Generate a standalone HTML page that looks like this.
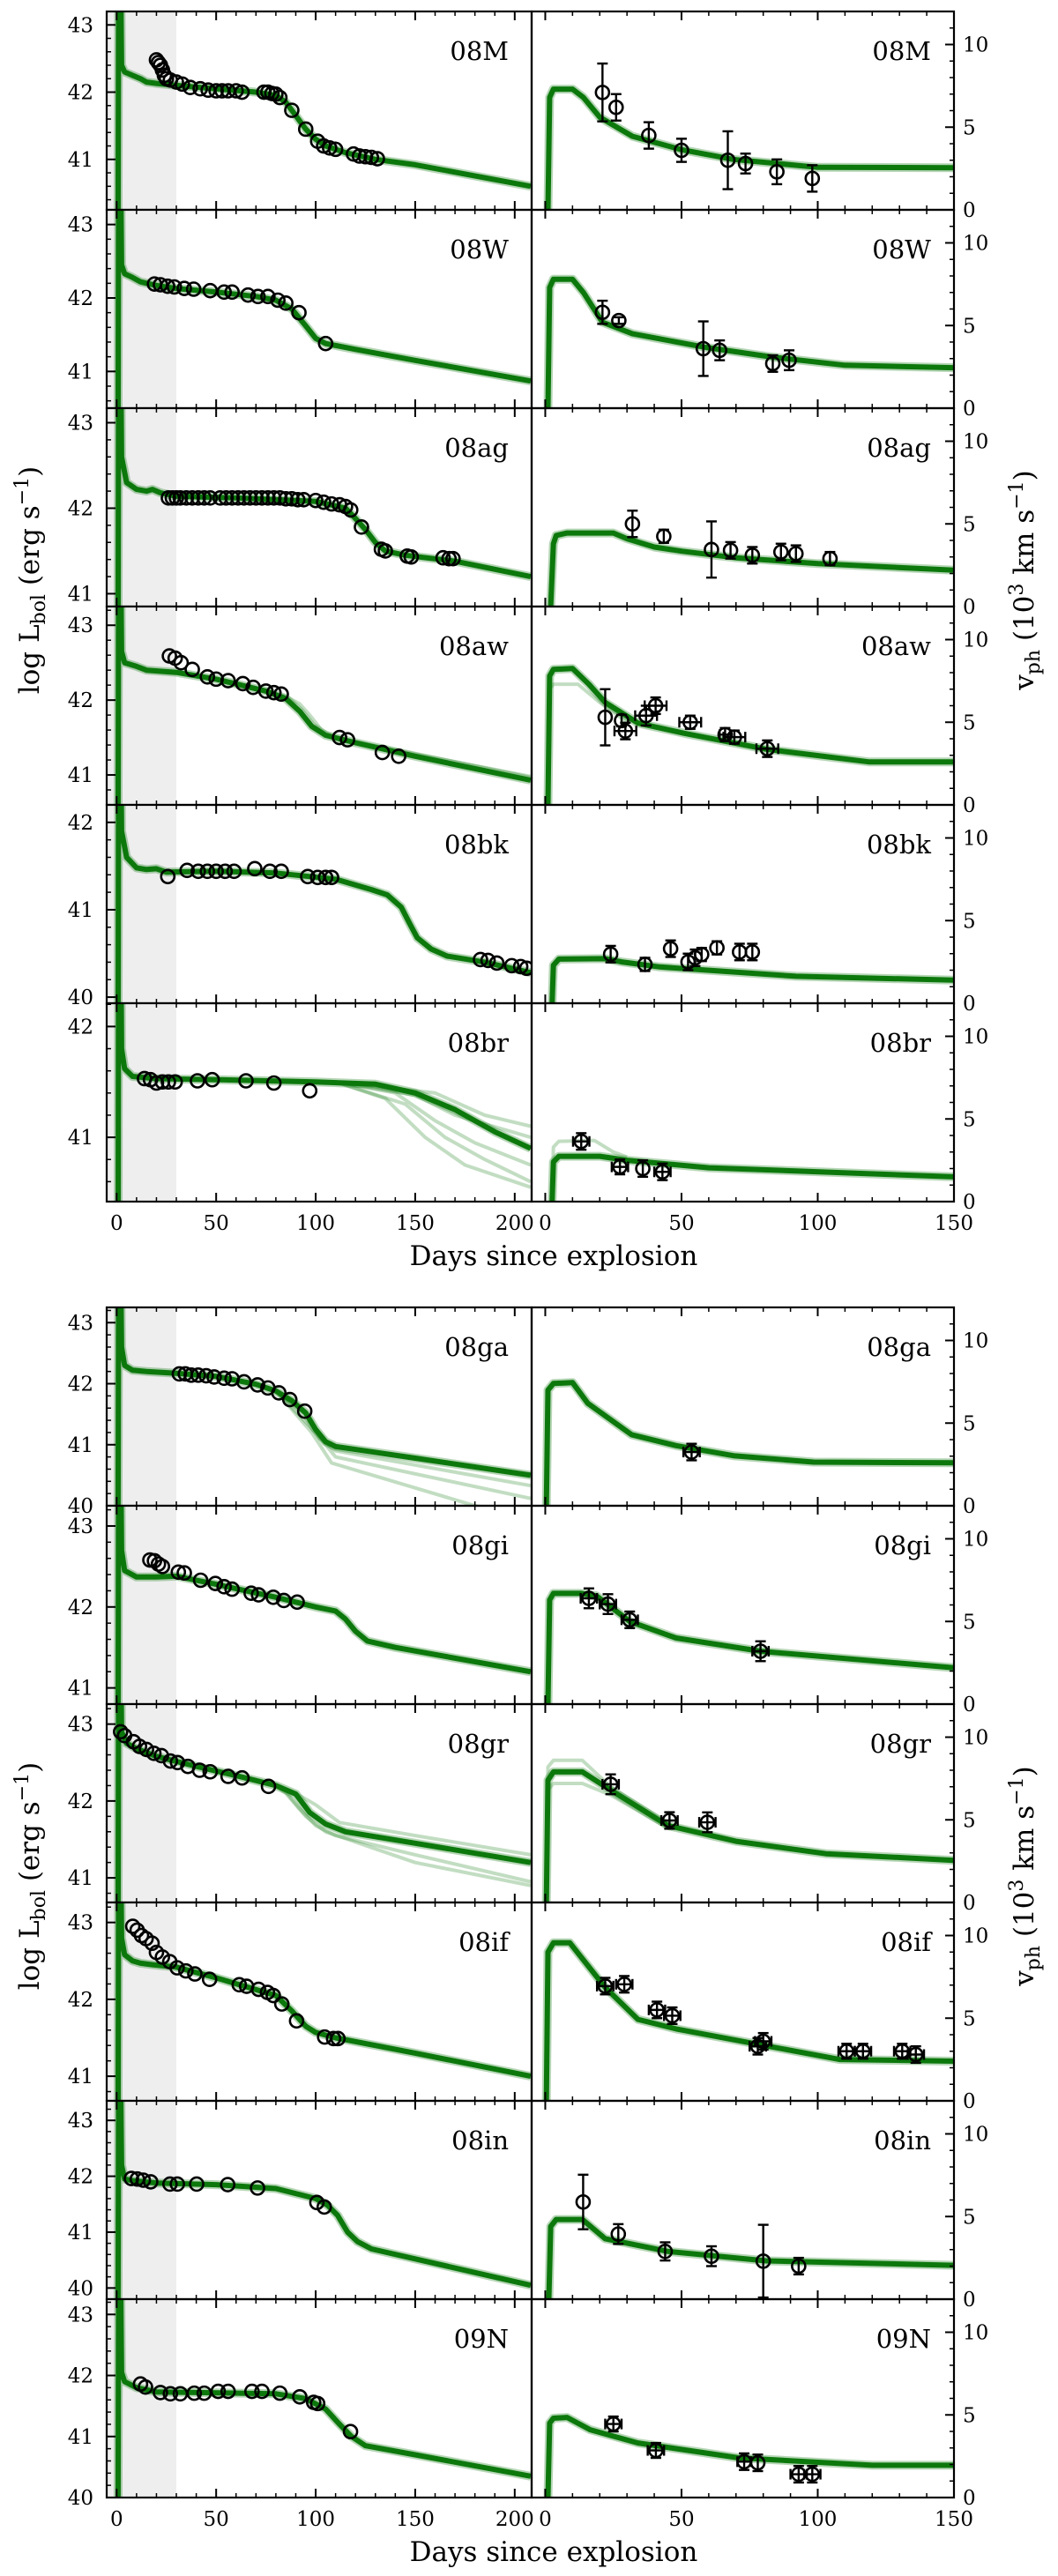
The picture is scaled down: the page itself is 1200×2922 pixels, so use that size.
<!DOCTYPE html>
<html><head><meta charset="utf-8"><title>SN II light curves and velocities</title>
<style>
html,body{margin:0;padding:0;background:#fff;}
svg{display:block;font-family:"DejaVu Serif","Liberation Serif",serif;}
</style></head>
<body>
<svg id="chart" width="1200" height="2922" viewBox="0 0 1200 2922" xmlns="http://www.w3.org/2000/svg">
<rect x="0" y="0" width="1200" height="2922" fill="#fff"/>
</svg>
<script>
// ---------- data ----------
const snNames = ['08M','08W','08ag','08aw','08bk','08br','08ga','08gi','08gr','08if','08in','09N'];
const lumYmin = [40.25,40.5,40.85,40.6,39.93,40.42,40.0,40.8,40.68,40.68,39.8,40.0];
const lumYmax = [43.2,43.2,43.17,43.25,42.2,42.21,43.25,43.25,43.26,43.26,43.35,43.25];
const xTicksLeft = [0,50,100,150,200];
const xTicksRight = [0,50,100,150];
const vTicks = [0,5,10];

// luminosity models [day, logL]
const L08M = [[2.5,42.4],[4,42.3],[8,42.25],[12,42.2],[15,42.15],[20,42.13],[30,42.1],[50,42.05],[70,42.0],[80,41.95],[85,41.85],[90,41.65],[95,41.45],[100,41.3],[105,41.2],[115,41.1],[130,41.0],[150,40.92],[208,40.6]];
const L08W = [[2.5,42.45],[4,42.33],[8,42.28],[12,42.22],[15,42.2],[20,42.17],[30,42.13],[50,42.08],[70,42.02],[80,41.97],[88,41.85],[95,41.62],[100,41.45],[105,41.38],[120,41.3],[150,41.15],[208,40.87]];
const L08ag = [[2.5,42.6],[5,42.3],[10,42.22],[15,42.2],[18,42.22],[22,42.18],[30,42.14],[60,42.12],[100,42.08],[115,42.0],[120,41.88],[125,41.75],[130,41.6],[135,41.5],[145,41.45],[170,41.38],[208,41.2]];
const L08aw = [[2.5,42.65],[4,42.5],[10,42.45],[15,42.4],[30,42.37],[50,42.28],[75,42.12],[85,42.02],[92,41.85],[98,41.65],[105,41.53],[120,41.43],[150,41.25],[208,40.93]];
const L08bk = [[2.5,41.9],[5,41.6],[10,41.48],[15,41.46],[20,41.47],[25,41.43],[50,41.44],[80,41.42],[110,41.35],[128,41.23],[136,41.17],[143,41.03],[147,40.85],[151,40.68],[158,40.55],[166,40.47],[185,40.4],[208,40.28]];
const L08br = [[2.5,41.8],[4,41.62],[8,41.55],[20,41.53],[50,41.52],[100,41.5],[130,41.48],[150,41.4],[170,41.25],[190,41.05],[208,40.9]];
const L08ga = [[2.5,42.6],[4,42.3],[8,42.22],[15,42.2],[30,42.17],[50,42.12],[70,41.99],[80,41.88],[88,41.72],[95,41.52],[100,41.25],[105,41.05],[110,40.97],[150,40.78],[208,40.5]];
const L08gi = [[2.5,42.7],[4,42.45],[10,42.37],[20,42.37],[30,42.38],[50,42.28],[80,42.12],[100,42.0],[110,41.95],[115,41.85],[120,41.7],[126,41.58],[140,41.5],[208,41.2]];
const L08gr = [[2.5,42.9],[5,42.75],[10,42.68],[20,42.58],[40,42.45],[60,42.33],[80,42.2],[90,42.09],[97,41.85],[105,41.7],[115,41.6],[150,41.45],[208,41.2]];
const L08if = [[2.5,42.8],[4,42.58],[8,42.5],[12,42.47],[18,42.45],[30,42.42],[50,42.28],[80,42.05],[88,41.85],[95,41.65],[100,41.57],[110,41.5],[150,41.3],[208,41.0]];
const L08in = [[2.5,42.2],[4,41.95],[8,41.92],[20,41.88],[50,41.85],[80,41.78],[100,41.6],[106,41.48],[111,41.3],[116,41.0],[121,40.83],[128,40.7],[208,40.05]];
const L09N = [[2.5,42.05],[4,41.9],[10,41.8],[20,41.73],[40,41.72],[80,41.7],[95,41.62],[105,41.45],[112,41.2],[118,41.0],[125,40.85],[150,40.7],[208,40.35]];

// luminosity model spread (extra posterior draws)
const F08aw = [[[75,42.12],[85,42.05],[92,41.95],[97,41.8],[103,41.6],[110,41.5],[150,41.28],[208,40.98]]];
const F08br = [
 [[110,41.5],[140,41.4],[160,41.15],[180,40.95],[208,40.75]],
 [[110,41.5],[145,41.3],[165,41.0],[185,40.8],[208,40.6]],
 [[110,41.5],[150,41.38],[170,41.2],[208,41.0]],
 [[110,41.5],[135,41.35],[155,41.0],[175,40.75],[208,40.55]],
 [[110,41.5],[160,41.4],[185,41.2],[208,41.1]]];
const F08ga = [
 [[80,41.88],[95,41.5],[102,41.1],[110,40.9],[208,40.33]],
 [[80,41.88],[100,41.2],[110,40.8],[208,40.12]],
 [[80,41.88],[98,41.2],[108,40.7],[180,40.0],[208,39.85]]];
const F08gr = [
 [[80,42.2],[85,42.12],[92,41.9],[100,41.68],[110,41.55],[150,41.3],[208,40.95]],
 [[80,42.2],[90,42.1],[100,41.95],[112,41.72],[150,41.55],[208,41.3]],
 [[80,42.2],[85,42.1],[95,41.8],[105,41.6],[150,41.2],[208,40.9]]];

// luminosity observations [day, logL]
const O08M = [[20,42.48],[21,42.44],[22,42.4],[23,42.33],[24,42.25],[25,42.2],[27,42.18],[30,42.15],[33,42.12],[37,42.07],[42,42.05],[46,42.03],[50,42.02],[53,42.02],[56,42.02],[60,42.02],[63,42.0],[74,42.0],[76,42.0],[78,41.98],[80,41.97],[82,41.92],[88,41.73],[95,41.45],[101,41.27],[104,41.2],[107,41.17],[110,41.15],[119,41.08],[122,41.05],[125,41.04],[128,41.03],[131,41.01]];
const O08W = [[19,42.19],[22,42.18],[25.6,42.16],[29,42.15],[34,42.13],[38.7,42.12],[47,42.1],[54,42.08],[58,42.08],[66,42.04],[71,42.02],[76,42.02],[81,41.97],[85,41.93],[91.6,41.8],[105,41.38]];
const O08ag = [[26,42.12],[28,42.12],[30,42.12],[32,42.12],[35,42.12],[38,42.12],[41,42.12],[44,42.12],[47,42.12],[52,42.12],[55,42.12],[58,42.12],[61,42.12],[64,42.12],[67,42.12],[70,42.12],[73,42.12],[76,42.12],[79,42.12],[82,42.12],[85,42.11],[88,42.11],[91,42.1],[94,42.1],[100,42.09],[104,42.07],[108,42.05],[112,42.04],[115,42.02],[117.6,41.98],[123,41.78],[133,41.52],[135,41.5],[146,41.44],[148,41.43],[164,41.42],[167,41.41],[169,41.41]];
const O08aw = [[26.5,42.59],[29.4,42.56],[32.4,42.5],[38,42.41],[45.6,42.31],[50,42.28],[56,42.26],[63.4,42.22],[68.6,42.17],[75,42.12],[79,42.1],[82.7,42.08],[112,41.5],[116,41.47],[133.5,41.3],[141.7,41.25]];
const O08bk = [[25.7,41.38],[35.4,41.45],[41,41.44],[45.6,41.44],[50,41.44],[54.5,41.44],[59,41.44],[69.4,41.47],[77,41.44],[82.7,41.44],[96,41.38],[101,41.37],[105,41.37],[108,41.37],[182.8,40.43],[186.6,40.42],[191,40.39],[198.5,40.36],[203,40.35],[206,40.33]];
const O08br = [[14,41.53],[17,41.52],[20,41.49],[23,41.5],[26,41.5],[29.4,41.5],[40.6,41.51],[48,41.52],[65,41.51],[79,41.49],[97,41.42]];
const O08ga = [[31.5,42.16],[34.5,42.16],[37.5,42.14],[41,42.14],[45,42.13],[49,42.11],[54,42.09],[58,42.08],[64,42.03],[70.8,41.98],[76,41.93],[81.5,41.85],[87,41.74],[94.5,41.55]];
const O08gi = [[16.7,42.58],[19,42.57],[21,42.53],[23,42.5],[31,42.43],[34,42.42],[42.2,42.33],[49.6,42.29],[54,42.25],[58,42.22],[67.6,42.17],[71.3,42.15],[78.7,42.12],[84,42.08],[90.7,42.06]];
const O08gr = [[2,42.9],[4,42.85],[8.5,42.77],[11.5,42.71],[15,42.67],[18.7,42.62],[22.5,42.59],[27,42.52],[30.6,42.5],[35.8,42.45],[41.7,42.4],[47,42.38],[56,42.32],[63,42.3],[76.3,42.19]];
const O08if = [[8.1,42.95],[10.3,42.9],[12.5,42.83],[14.8,42.79],[17.8,42.73],[20,42.61],[23,42.55],[26.7,42.49],[30.4,42.41],[34.8,42.37],[39.3,42.33],[46.7,42.26],[61.6,42.19],[65.3,42.17],[71.3,42.13],[75.8,42.09],[78.7,42.05],[83,41.94],[90.4,41.72],[104.5,41.51],[109,41.49],[111.2,41.49]];
const O08in = [[7.4,41.96],[10.4,41.95],[13.4,41.93],[17.1,41.9],[26.8,41.86],[30.5,41.86],[40.2,41.86],[55.8,41.85],[70.8,41.79],[100.6,41.53],[104.3,41.45]];
const O09N = [[12,41.86],[14.5,41.81],[22,41.72],[27,41.7],[32,41.7],[39,41.71],[44,41.71],[51,41.74],[56,41.74],[68,41.74],[73,41.74],[82,41.71],[92,41.65],[99,41.56],[101,41.54],[117.5,41.08]];

// velocity models [day, v]
const V08M = [[1,0],[1.6,6.8],[3,7.3],[10,7.3],[14,6.8],[20,5.6],[32,4.45],[50,3.64],[69,3.05],[100,2.57],[150,2.55]];
const V08W = [[1,0],[1.6,7.3],[3,7.8],[10,7.8],[14,7.0],[21,5.2],[32,4.5],[58,3.7],[83,3.1],[110,2.6],[150,2.45]];
const V08ag = [[2,0],[3,3.8],[4,4.3],[8,4.45],[25,4.45],[30,4.1],[40,3.6],[50,3.35],[70,2.95],[100,2.6],[150,2.2]];
const V08aw = [[1,0],[1.6,7.8],[3,8.2],[10,8.25],[16,7.3],[22,6.2],[34,4.95],[51,4.33],[81,3.37],[119,2.6],[150,2.6]];
const V08bk = [[2.5,0],[3,2.3],[5,2.67],[22,2.7],[28,2.5],[42,2.2],[92,1.63],[150,1.4]];
const V08br = [[2.5,0],[3,2.4],[5,2.74],[20,2.74],[30,2.5],[60,2.05],[150,1.5]];
const V08ga = [[0.4,0],[1,7.0],[3,7.4],[10,7.45],[15.6,6.2],[31.7,4.3],[48,3.64],[69.5,3.02],[98.5,2.64],[150,2.6]];
const V08gi = [[1,0],[1.6,6.3],[3,6.7],[13,6.7],[18.8,6.55],[31,5.0],[48,4.0],[79,3.2],[150,2.2]];
const V08gr = [[0.4,0],[1,7.4],[3,7.9],[13.6,7.9],[24,6.8],[45,4.65],[70,3.7],[103,2.95],[150,2.55]];
const V08if = [[0.4,0],[1,9.0],[3,9.56],[9,9.56],[22,6.86],[34,4.93],[48,4.35],[79,3.39],[108,2.5],[150,2.4]];
const V08in = [[1.3,0],[2,4.4],[4,4.82],[13.6,4.82],[22,3.66],[45,2.89],[81,2.32],[150,2.05]];
const V09N = [[1,0],[1.6,4.5],[3,4.8],[8,4.85],[16.5,4.1],[34,3.3],[71,2.4],[120,1.95],[150,1.95]];
const VF08aw = [[[1,0],[1.6,7.0],[3,7.3],[12,7.3],[20,6.2],[30,5.0]]];
const VF08br = [[[2.5,0],[3,3.3],[5,3.65],[18,3.7],[25,3.0],[30,2.7]]];
const VF08gr = [[[0.4,0],[1,6.8],[3,7.2],[13.6,7.2],[24,6.5],[45,4.5]],[[0.4,0],[1,8.2],[3,8.6],[13.6,8.6],[24,7.0],[45,4.8]]];

// velocity observations [day, v, verr, dayerr]
const VO08M = [[21,7.1,1.75,0],[26,6.2,0.8,0],[38,4.5,0.8,0],[50,3.6,0.7,0],[67,3.0,1.75,0],[73.5,2.8,0.6,0],[85,2.3,0.75,0],[98,1.9,0.8,0]];
const VO08W = [[21,5.8,0.7,0],[27,5.3,0.2,0],[58,3.6,1.65,0],[64,3.5,0.6,0],[83.5,2.7,0.5,0],[89.5,2.9,0.6,0]];
const VO08ag = [[32,5.0,0.8,0],[43.5,4.25,0.4,0],[61,3.45,1.7,0],[68,3.4,0.5,0],[76,3.1,0.5,0],[86.5,3.3,0.5,0],[92,3.2,0.5,0],[104.5,2.9,0.4,0]];
const VO08aw = [[22,5.3,1.7,0],[28,5.1,0.35,0],[29.4,4.47,0.5,4],[37,5.4,0.6,4],[40.5,6.0,0.5,4],[53.2,5.0,0.4,4],[66,4.25,0.4,2],[69.4,4.1,0.4,4],[81.5,3.4,0.5,4]];
const VO08bk = [[24,2.97,0.5,0],[36.6,2.35,0.4,0],[46,3.3,0.5,0],[52.4,2.5,0.5,0],[55,2.75,0.5,0],[57.4,2.95,0.4,0],[63,3.35,0.4,0],[71.3,3.1,0.5,0],[76,3.1,0.5,0]];
const VO08br = [[13.2,3.64,0.5,3],[27.4,2.1,0.45,3],[35.8,2.0,0.5,0],[43,1.8,0.5,3]];
const VO08ga = [[53.7,3.25,0.5,3]];
const VO08gi = [[16,6.4,0.6,3],[23,6.05,0.6,3],[31,5.1,0.5,3],[79,3.2,0.6,3]];
const VO08gr = [[24,7.15,0.6,3],[45.6,4.96,0.5,3],[59.5,4.85,0.6,3]];
const VO08if = [[22,6.94,0.5,3],[29,7.05,0.5,3],[41,5.5,0.5,3],[46.6,5.15,0.5,3],[78,3.3,0.5,3],[80,3.6,0.5,3],[110.6,3.0,0.45,3],[116.6,3.0,0.45,3],[131,3.0,0.45,3],[136,2.8,0.5,3]];
const VO08in = [[13.9,5.88,1.65,0],[26.8,3.94,0.6,0],[44,2.89,0.55,0],[61,2.6,0.6,0],[80,2.3,2.2,0],[93,2.0,0.5,0]];
const VO09N = [[25,4.45,0.45,3],[40.6,2.85,0.45,3],[73,2.17,0.5,2.5],[78,2.1,0.5,0],[93,1.41,0.5,3],[98,1.41,0.5,3]];

const lumModels = [L08M,L08W,L08ag,L08aw,L08bk,L08br,L08ga,L08gi,L08gr,L08if,L08in,L09N];
const lumFans = [[],[],[],F08aw,[],F08br,F08ga,[],F08gr,[],[],[]];
const lumObs = [O08M,O08W,O08ag,O08aw,O08bk,O08br,O08ga,O08gi,O08gr,O08if,O08in,O09N];
const velModels = [V08M,V08W,V08ag,V08aw,V08bk,V08br,V08ga,V08gi,V08gr,V08if,V08in,V09N];
const velFans = [[],[],[],VF08aw,[],VF08br,[],[],VF08gr,[],[],[]];
const velObs = [VO08M,VO08W,VO08ag,VO08aw,VO08bk,VO08br,VO08ga,VO08gi,VO08gr,VO08if,VO08in,VO09N];

// ---------- layout ----------
const svg = document.getElementById('chart');
const NS = 'http://www.w3.org/2000/svg';
function mk(tag, attrs, parent){const e=document.createElementNS(NS,tag);for(const k in attrs)e.setAttribute(k,attrs[k]);(parent||svg).appendChild(e);return e;}
const blockTops = [13,1483];
const PH = 225, LX0 = 121, LX1 = 603, RX0 = 603, RX1 = 1082;
const dayL0 = -5, dayL1 = 208.5, dayR0 = -5, dayR1 = 150;
const V0 = 0, V1 = 12;
const GREEN = '#0c780c';
function xl(t){return LX0+(t-dayL0)/(dayL1-dayL0)*(LX1-LX0);}
function xr(t){return RX0+(t-dayR0)/(dayR1-dayR0)*(RX1-RX0);}
const defs = mk('defs',{});

function drawCurve(g, pts, fx, fy, fan){
  const p = pts.map(q=>fx(q[0]).toFixed(1)+','+fy(q[1]).toFixed(1)).join(' ');
  if(fan){
    const f = mk('polyline',{points:p,fill:'none',stroke:GREEN,'stroke-width':4,'stroke-opacity':0.25,'stroke-linejoin':'round'},g);
    
    
    return;
  }
  const h = mk('polyline',{points:p,fill:'none',stroke:GREEN,'stroke-width':10,'stroke-opacity':0.3,'stroke-linejoin':'round'},g);
  
  
  const m = mk('polyline',{points:p,fill:'none',stroke:GREEN,'stroke-width':6,'stroke-opacity':1,'stroke-linejoin':'round'},g);
  
  
}

for(let i=0;i<12;i++){
  const top = blockTops[Math.floor(i/6)] + (i%6)*PH;
  const bot = top+PH;
  const ymin = lumYmin[i], ymax = lumYmax[i];
  const yl = v => top+(ymax-v)/(ymax-ymin)*PH;
  const yv = v => bot-(v-V0)/(V1-V0)*PH;
  const name = snNames[i];

  const cpL = mk('clipPath',{id:'cl'+i},defs);
  mk('rect',{x:LX0,y:top,width:LX1-LX0,height:PH},cpL);
  const gL = mk('g',{'clip-path':'url(#cl'+i+')'});
  
  
  const sh = mk('rect',{x:xl(dayL0),y:top,width:xl(30)-xl(dayL0),height:PH,fill:'#eeeeee'},gL);
  
  
  lumFans[i].forEach(c=>drawCurve(gL,c,xl,yl,true));
  drawCurve(gL,[[0.5,ymin-3],[1.2,ymax+3]].concat(lumModels[i]),xl,yl,false);
  lumObs[i].forEach(o=>{
    const c = mk('circle',{cx:xl(o[0]),cy:yl(o[1]),r:7.5,fill:'none',stroke:'#000','stroke-width':2.6},gL);
    
    
  });
  const frL = mk('rect',{x:LX0,y:top,width:LX1-LX0,height:PH,fill:'none',stroke:'#000','stroke-width':2.2});
  
  
  for(let t=0;t<=200;t+=10){
    const len = (t%50===0)?10:5;
    mk('line',{x1:xl(t),x2:xl(t),y1:bot,y2:bot-len,stroke:'#000','stroke-width':(t%50===0)?2:1.5});
    mk('line',{x1:xl(t),x2:xl(t),y1:top,y2:top+len,stroke:'#000','stroke-width':(t%50===0)?2:1.5});
  }
  for(let k=Math.ceil(ymin*5-1e-6);k<=Math.floor(ymax*5+1e-6);k++){
    const v=k/5, major=(k%5===0);
    mk('line',{x1:LX0,x2:LX0+(major?10:5),y1:yl(v),y2:yl(v),stroke:'#000','stroke-width':major?2:1.5});
    if(major){
      const tl = mk('text',{x:106,y:yl(v)+8,'text-anchor':'end','font-size':23,fill:'#000'});
      tl.textContent = String(v);
      
      
    }
  }
  const lbL = mk('text',{x:577,y:top+55,'text-anchor':'end','font-size':29,fill:'#000'});
  lbL.textContent = name;
  
  

  const cpR = mk('clipPath',{id:'cr'+i},defs);
  mk('rect',{x:RX0,y:top,width:RX1-RX0,height:PH},cpR);
  const gR = mk('g',{'clip-path':'url(#cr'+i+')'});
  
  
  velFans[i].forEach(c=>drawCurve(gR,c,xr,yv,true));
  drawCurve(gR,velModels[i],xr,yv,false);
  velObs[i].forEach(o=>{
    const x=xr(o[0]), y=yv(o[1]), y1=yv(o[1]-o[2]), y2=yv(o[1]+o[2]);
    const eb = mk('g',{stroke:'#000','stroke-width':2.4,fill:'none'},gR);
    
    
    mk('line',{x1:x,x2:x,y1:y1,y2:y2},eb);
    mk('line',{x1:x-6,x2:x+6,y1:y1,y2:y1},eb);
    mk('line',{x1:x-6,x2:x+6,y1:y2,y2:y2},eb);
    if(o[3]>0){
      const xa=xr(o[0]-o[3]), xb=xr(o[0]+o[3]);
      mk('line',{x1:xa,x2:xb,y1:y,y2:y},eb);
      mk('line',{x1:xa,x2:xa,y1:y-6,y2:y+6},eb);
      mk('line',{x1:xb,x2:xb,y1:y-6,y2:y+6},eb);
    }
    const c = mk('circle',{cx:x,cy:y,r:7.5,fill:'none',stroke:'#000','stroke-width':2.6},gR);
    
    
  });
  const frR = mk('rect',{x:RX0,y:top,width:RX1-RX0,height:PH,fill:'none',stroke:'#000','stroke-width':2.2});
  
  
  for(let t=0;t<=150;t+=10){
    const len = (t%50===0)?10:5;
    mk('line',{x1:xr(t),x2:xr(t),y1:bot,y2:bot-len,stroke:'#000','stroke-width':(t%50===0)?2:1.5});
    mk('line',{x1:xr(t),x2:xr(t),y1:top,y2:top+len,stroke:'#000','stroke-width':(t%50===0)?2:1.5});
  }
  for(let v=0;v<=12;v++){
    const major = vTicks.indexOf(v)>=0;
    mk('line',{x1:RX1,x2:RX1-(major?10:5),y1:yv(v),y2:yv(v),stroke:'#000','stroke-width':major?2:1.5});
    if(major){
      const tl = mk('text',{x:1092,y:yv(v)+8,'text-anchor':'start','font-size':23,fill:'#000'});
      tl.textContent = String(v);
      
      
    }
  }
  const lbR = mk('text',{x:1056,y:top+55,'text-anchor':'end','font-size':29,fill:'#000'});
  lbR.textContent = name;
  
  
}

blockTops.forEach((bt,b)=>{
  const bot = bt+6*PH;
  xTicksLeft.forEach(t=>{
    const e = mk('text',{x:xl(t),y:bot+32,'text-anchor':'middle','font-size':23,fill:'#000'});
    e.textContent = String(t);
    
    
  });
  xTicksRight.forEach(t=>{
    const e = mk('text',{x:xr(t),y:bot+32,'text-anchor':'middle','font-size':23,fill:'#000'});
    e.textContent = String(t);
    
    
  });
  const xt = mk('text',{x:628,y:bot+72,'text-anchor':'middle','font-size':31,fill:'#000'});
  xt.textContent = 'Days since explosion';
  
  

  const cy = bt+645;
  const yt = mk('text',{x:0,y:0,'text-anchor':'middle','font-size':31,fill:'#000',transform:'translate(44,'+cy+') rotate(-90)'});
  
  
  yt.innerHTML = 'log L<tspan dy="7" font-size="22">bol</tspan><tspan dy="-7"> (erg s</tspan><tspan dy="-12" font-size="22">−1</tspan><tspan dy="12">)</tspan>';

  const vt = mk('text',{x:0,y:0,'text-anchor':'middle','font-size':31,fill:'#000',transform:'translate(1172,'+cy+') rotate(-90)'});
  
  
  vt.innerHTML = 'v<tspan dy="7" font-size="22">ph</tspan><tspan dy="-7"> (10</tspan><tspan dy="-12" font-size="22">3</tspan><tspan dy="12"> km s</tspan><tspan dy="-12" font-size="22">−1</tspan><tspan dy="12">)</tspan>';
});
</script>
</body></html>
